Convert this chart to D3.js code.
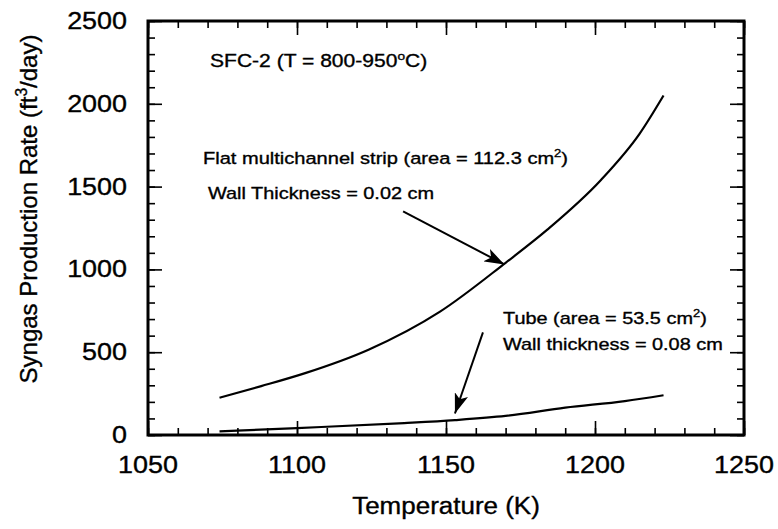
<!DOCTYPE html>
<html>
<head>
<meta charset="utf-8">
<script src="https://cdn.jsdelivr.net/npm/d3@7/dist/d3.min.js"></script>
<style>
  body { margin: 0; background: #fff; }
  text { font-family: "Liberation Sans", Arial, Helvetica, sans-serif; fill: #000; stroke: #000; stroke-width: 0.35; }
</style>
</head>
<body>
<div id="canvas"></div>
<script>
"use strict"

let svgWidth = 778;
let svgHeight = 529;
let plotLeft = 148, plotRight = 744, plotTop = 21, plotBottom = 435;

/* data */
let flatTemp = [1074, 1088, 1103, 1124, 1148, 1170, 1184, 1202, 1215, 1223];
let flatRate = [225, 295, 375, 515, 745, 1040, 1240, 1540, 1820, 2050];

let tubeTemp = [1074, 1100, 1136, 1153, 1170, 1190, 1210, 1223];
let tubeRate = [22, 42, 72, 90, 115, 165, 205, 240];

let xTickLabels = [1050, 1100, 1150, 1200, 1250];
let yTickLabels = [0, 500, 1000, 1500, 2000, 2500];

let svg = d3.select("#canvas")
    .append("svg")
    .attr("width", svgWidth)
    .attr("height", svgHeight);

/* Scales */
let xScale = d3.scaleLinear()
    .domain([1050, 1250])
    .range([plotLeft, plotRight]);

let yScale = d3.scaleLinear()
    .domain([0, 2500])
    .range([plotBottom, plotTop]);

/* arrowhead */
svg.append("defs").append("marker")
    .attr("id", "head")
    .attr("viewBox", "0 0 20 14")
    .attr("refX", 20)
    .attr("refY", 7)
    .attr("markerWidth", 20)
    .attr("markerHeight", 14)
    .attr("markerUnits", "userSpaceOnUse")
    .attr("orient", "auto")
    .append("path")
    .attr("d", "M0,0 L20,7 L0,14 L5,7 Z")
    .attr("fill", "#000");

/* ticks, all pointing inward */
let xMinor = d3.range(1050, 1251, 10);
let yMinor = d3.range(0, 2501, 100);

function ticks(axis, scale, pos, values, size) {
    svg.append("g").attr("transform", pos)
        .call(axis(scale).tickValues(values).tickSize(size).tickFormat(""))
        .call(g => g.select(".domain").remove());
}

ticks(d3.axisTop, xScale, `translate(0,${plotBottom})`, xMinor, 7);
ticks(d3.axisTop, xScale, `translate(0,${plotBottom})`, xTickLabels, 14);
ticks(d3.axisBottom, xScale, `translate(0,${plotTop})`, xMinor, 7);
ticks(d3.axisBottom, xScale, `translate(0,${plotTop})`, xTickLabels, 14);
ticks(d3.axisRight, yScale, `translate(${plotLeft},0)`, yMinor, 7);
ticks(d3.axisRight, yScale, `translate(${plotLeft},0)`, yTickLabels, 14);
ticks(d3.axisLeft, yScale, `translate(${plotRight},0)`, yMinor, 7);
ticks(d3.axisLeft, yScale, `translate(${plotRight},0)`, yTickLabels, 14);

svg.selectAll(".tick line").attr("stroke", "#000").attr("stroke-width", 1.6);

/* frame */
svg.append("rect")
    .attr("x", plotLeft)
    .attr("y", plotTop)
    .attr("width", plotRight - plotLeft)
    .attr("height", plotBottom - plotTop)
    .attr("fill", "none")
    .attr("stroke", "#000")
    .attr("stroke-width", 3);

/* stretched text helper (the scan is a bit wide) */
function label(x, y, size, sx, anchor, parts, rotate) {
    let t = svg.append("text")
        .attr("transform", `translate(${x},${y})` + (rotate ? ` rotate(${rotate})` : "") + ` scale(${sx},1)`)
        .attr("font-size", size)
        .attr("text-anchor", anchor);
    let shift = 0;
    parts.forEach(p => {
        if (typeof p === "string") {
            t.append("tspan").attr("dy", -shift).text(p);
            shift = 0;
        } else {
            shift = -size * 0.4;
            t.append("tspan")
                .attr("font-size", size * 0.65)
                .attr("dy", shift)
                .text(p.sup);
        }
    });
    return t;
}

/* tick labels */
xTickLabels.forEach(v => label(xScale(v), 473, 23, 1.17, "middle", [String(v)]));
yTickLabels.forEach(v => label(plotLeft - 21, yScale(v) + 8, 23, 1.17, "end", [String(v)]));

/* axis titles */
label((plotLeft + plotRight) / 2, 514, 23, 1.13, "middle", ["Temperature (K)"]);
label(37, 209, 24, 1.0, "middle",
    ["Syngas Production Rate (ft", {sup: "3"}, "/day)"], -90);

/* curves */
let line = d3.line()
    .curve(d3.curveMonotoneX)
    .x(d => xScale(d[0]))
    .y(d => yScale(d[1]));

svg.append("path")
    .datum(d3.zip(flatTemp, flatRate))
    .attr("d", line)
    .attr("fill", "none")
    .attr("stroke", "#000")
    .attr("stroke-width", 2.2);

svg.append("path")
    .datum(d3.zip(tubeTemp, tubeRate))
    .attr("d", line)
    .attr("fill", "none")
    .attr("stroke", "#000")
    .attr("stroke-width", 2.2);

/* annotations */
label(210, 67, 18, 1.17, "start", ["SFC-2 (T = 800-950", {sup: "o"}, "C)"]);
label(203, 164, 17, 1.18, "start", ["Flat multichannel strip (area = 112.3 cm", {sup: "2"}, ")"]);
label(208, 199, 17, 1.17, "start", ["Wall Thickness = 0.02 cm"]);
label(503, 324, 17, 1.17, "start", ["Tube (area = 53.5 cm", {sup: "2"}, ")"]);
label(503, 350, 17, 1.17, "start", ["Wall thickness = 0.08 cm"]);

let arrows = [
    {from: [1135.6, 1350], to: [1169.6, 1030]},
    {from: [1162.4, 620], to: [1153, 130]}
];

svg.selectAll("line.arrow")
    .data(arrows)
    .join("line")
    .attr("class", "arrow")
    .attr("x1", d => xScale(d.from[0]))
    .attr("y1", d => yScale(d.from[1]))
    .attr("x2", d => xScale(d.to[0]))
    .attr("y2", d => yScale(d.to[1]))
    .attr("stroke", "#000")
    .attr("stroke-width", 2)
    .attr("marker-end", "url(#head)");
</script>
</body>
</html>
